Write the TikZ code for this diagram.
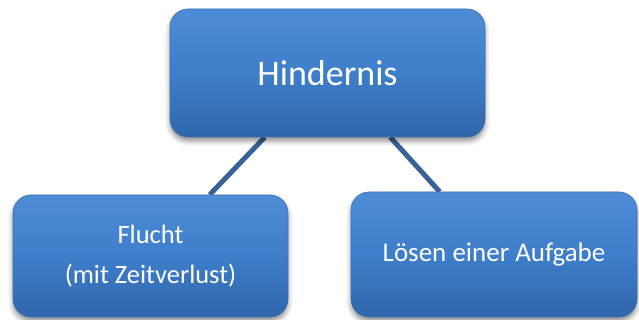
\documentclass[tikz,border=0pt]{standalone}
\usepackage{fontspec}
\setmainfont{Carlito}
\usetikzlibrary{shadows.blur,backgrounds}
\definecolor{boxtop}{RGB}{78,140,214}
\definecolor{boxmid}{RGB}{62,126,202}
\definecolor{boxbot}{RGB}{48,102,172}
\definecolor{boxedge}{RGB}{60,110,175}
\definecolor{linkc}{RGB}{58,98,150}
\tikzset{
  smartbox/.style={rectangle, rounded corners=18pt, draw=boxedge, line width=0.6pt,
    top color=boxtop, bottom color=boxbot, middle color=boxmid,
    text=white, align=center, inner sep=0pt,
    blur shadow={shadow xshift=0pt, shadow yshift=-4pt, shadow blur radius=5pt, shadow opacity=45}},
  link/.style={draw=linkc, line width=5pt}
}
\begin{document}
\begin{tikzpicture}[x=1pt,y=-1pt]
\useasboundingbox (0,0) rectangle (639,320);
\node[smartbox, minimum width=315pt, minimum height=128pt, font=\fontsize{36}{40}\selectfont] (top) at (327.5,73) {Hindernis};
\node[smartbox, minimum width=275pt, minimum height=122pt, font=\fontsize{26.5}{40}\selectfont] (left) at (150.5,256) {Flucht\\(mit Zeitverlust)};
\node[smartbox, minimum width=286pt, minimum height=125pt, font=\fontsize{27}{30}\selectfont] (right) at (494,254.5) {Lösen einer Aufgabe};
\begin{pgfonlayer}{background}
\draw[link] ([xshift=95pt]top.south west) -- ([xshift=197pt]left.north west);
\draw[link] ([xshift=-95pt]top.south east) -- ([xshift=89pt]right.north west);
\end{pgfonlayer}
\end{tikzpicture}
\end{document}
